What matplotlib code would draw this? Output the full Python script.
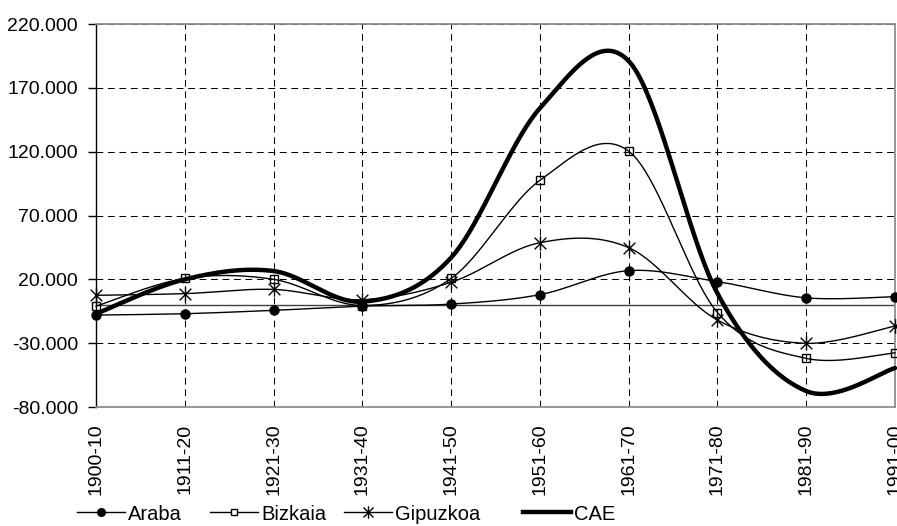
import numpy as np
import matplotlib
matplotlib.use("Agg")
import matplotlib.pyplot as plt
from matplotlib.lines import Line2D
from matplotlib.path import Path
from matplotlib.ticker import FuncFormatter

# Saldo migratorio por decenios (personas)
decades = ["1900-10", "1911-20", "1921-30", "1931-40", "1941-50",
           "1951-60", "1961-70", "1971-80", "1981-90", "1991-00"]
araba = [-8000, -6900, -4300, -1000, 600, 8000, 26800, 18200, 5500, 6400]
bizkaia = [-1000, 20700, 20000, -500, 20700, 97500, 120400, -6000, -41900, -37600]
gipuzkoa = [7500, 8800, 12100, 4000, 17700, 48700, 44800, -11900, -30100, -16600]
cae = [-7000, 20000, 26500, 2500, 37000, 154000, 191000, 9000, -67500, -49500]

y_ticks = list(range(-80000, 220001, 50000))

plt.rcParams["font.family"] = ["Liberation Sans", "DejaVu Sans"]


def smooth(xs, ys, n=40):
    """Cubic Bezier smoothing through every point (Catmull-Rom control points)."""
    p = np.column_stack([xs, ys]).astype(float)
    ext = np.vstack([p[0], p, p[-1]])
    out = []
    t = np.linspace(0, 1, n)[:, None]
    for i in range(len(p) - 1):
        p0, p1, p2, p3 = ext[i], ext[i + 1], ext[i + 2], ext[i + 3]
        c1 = p1 + (p2 - p0) / 6.0
        c2 = p2 - (p3 - p1) / 6.0
        seg = ((1 - t) ** 3) * p1 + 3 * ((1 - t) ** 2) * t * c1 \
            + 3 * (1 - t) * t ** 2 * c2 + t ** 3 * p2
        out.append(seg if i == 0 else seg[1:])
    s = np.vstack(out)
    return s[:, 0], s[:, 1]


# asterisk marker: an X crossed by a vertical bar
star_path = Path(
    [(-1, -1), (1, 1), (-1, 1), (1, -1), (0, -1.25), (0, 1.25)],
    [Path.MOVETO, Path.LINETO, Path.MOVETO, Path.LINETO, Path.MOVETO, Path.LINETO],
)

W, H = 897, 526
fig = plt.figure(figsize=(W / 100, H / 100), dpi=100)
ax = fig.add_axes([96 / W, 1 - 407 / H, (895 - 96) / W, (407 - 24) / H])

x = np.arange(len(decades))

# grid
dash = (0, (6.5, 4.5))
for yv in y_ticks[1:]:
    ax.axhline(yv, color="black", lw=0.75, ls=dash, zorder=1)
for xv in x[1:-1]:
    ax.axvline(xv, color="black", lw=0.75, ls=dash, zorder=1)
ax.axhline(0, color="#404040", lw=1.0, zorder=2)

series = [
    (araba, dict(marker="o", ms=6.5, mfc="black", mec="black"), 1.0),
    (bizkaia, dict(marker="s", ms=6.2, mfc="none", mec="black", mew=1.0), 1.0),
    (gipuzkoa, dict(marker=star_path, ms=10.5, mfc="none", mec="black", mew=1.0), 1.0),
]
for vals, mk, lw in series:
    sx, sy = smooth(x, vals)
    ax.plot(sx, sy, color="black", lw=lw, zorder=3, clip_on=False)
    ax.plot(x, vals, ls="none", zorder=4, clip_on=False, **mk)

sx, sy = smooth(x, cae)
ax.plot(sx, sy, color="black", lw=3.2, zorder=5, solid_capstyle="round",
        solid_joinstyle="round", clip_on=False)

ax.set_xlim(0, len(decades) - 1)
ax.set_ylim(y_ticks[0], y_ticks[-1])
ax.set_yticks(y_ticks)
ax.yaxis.set_major_formatter(FuncFormatter(lambda v, p: f"{v:,.0f}".replace(",", ".")))
ax.tick_params(axis="y", direction="out", length=6, width=1, colors="black",
               labelsize=14, pad=7)
ax.set_xticks(x)
ax.set_xticklabels(decades, rotation=90, fontsize=14)
ax.tick_params(axis="x", length=0, pad=12)

for side in ("top", "right", "bottom"):
    ax.spines[side].set_color("#8c8c8c")
    ax.spines[side].set_linewidth(1.3)
ax.spines["left"].set_color("black")
ax.spines["left"].set_linewidth(1.0)

# legend entries laid out along the bottom edge
handles = [
    Line2D([], [], color="black", lw=1.0, marker="o", ms=5.5, mfc="black", mec="black"),
    Line2D([], [], color="black", lw=1.0, marker="s", ms=5, mfc="white", mec="black"),
    Line2D([], [], color="black", lw=1.0, marker=star_path, ms=9, mfc="none", mec="black"),
    Line2D([], [], color="black", lw=3.2),
]
labels = ["Araba", "Bizkaia", "Gipuzkoa", "CAE"]
starts = [77, 210, 344, 523]
for h, lab, x0 in zip(handles, labels, starts):
    fig.legend([h], [lab], loc="center left", bbox_to_anchor=(x0 / W, 1 - 514 / H),
               frameon=False, handlelength=2.4, handletextpad=0.15,
               borderaxespad=0, borderpad=0, prop={"size": 14.5})

fig.savefig("out.png", dpi=100)
